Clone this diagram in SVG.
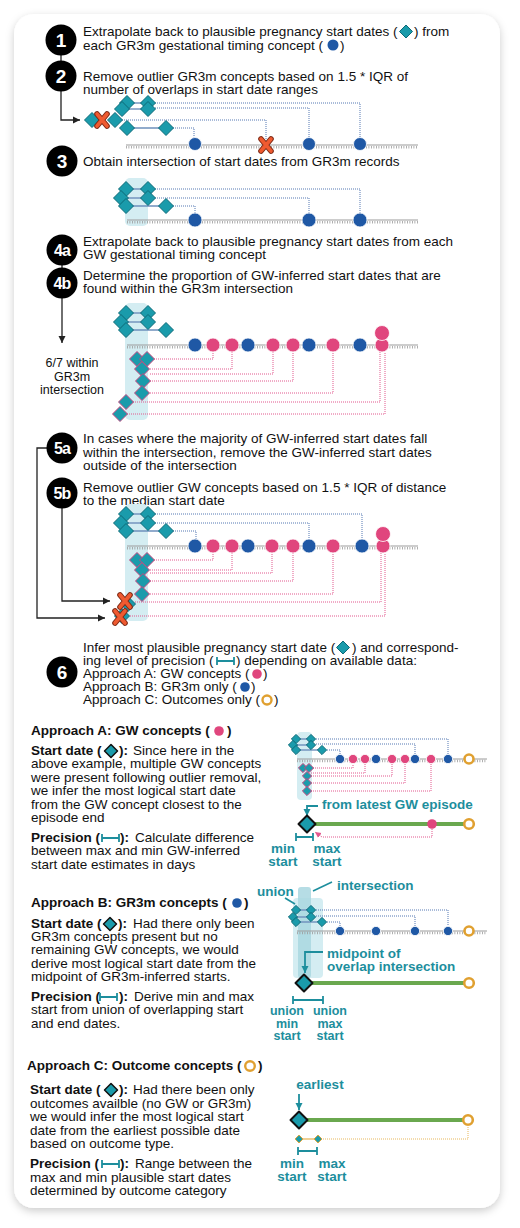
<svg xmlns="http://www.w3.org/2000/svg" width="520" height="1228" viewBox="0 0 520 1228">
<style>
text{font-family:"Liberation Sans",Arial,sans-serif;font-size:13.5px;fill:#111}
.b{font-weight:bold}
.num{font-weight:bold;fill:#fff;font-size:19px;text-anchor:middle}
.num2{font-weight:bold;fill:#fff;font-size:16px;text-anchor:middle;letter-spacing:-0.8px}
.tt{font-weight:bold;fill:#1d8e9d;font-size:13.5px}
.sm{font-size:12.5px}
.m{text-anchor:middle}
.dT{fill:#1a9bab;stroke:#0c6a78;stroke-width:1;stroke-linejoin:round}
.dP{fill:#1a9bab;stroke:#c9457e;stroke-width:1;stroke-linejoin:round}
.dO{fill:#1a9bab;stroke:#e0a030;stroke-width:1}
.dK{fill:#1a9bab;stroke:#111;stroke-width:2;stroke-linejoin:round}
.dKs{fill:#1a9bab;stroke:#111;stroke-width:1.5;stroke-linejoin:round}
.cB{fill:#1f58a5;stroke:#fff;stroke-width:.8}
.cP{fill:#e0467d;stroke:#fff;stroke-width:.8}
.ring{fill:#fff;stroke:#e0a030;stroke-width:2.6}
.tl{stroke:#9b9b9b;stroke-width:1.2}
.tk{stroke:#9b9b9b;stroke-width:2.6;stroke-dasharray:.8 1.7}
.bd{fill:none;stroke:#5579b3;stroke-width:1;stroke-dasharray:1 1}
.pd{fill:none;stroke:#e2588e;stroke-width:1;stroke-dasharray:1 1}
.od{fill:none;stroke:#e8b75a;stroke-width:1;stroke-dasharray:1 1}
.sc{stroke:#6d8fbb;stroke-width:1.4}
.sh{fill:#d4edf2}
.k{fill:none;stroke:#222;stroke-width:1.3}
.tb{fill:none;stroke:#1d8e9d;stroke-width:1.8}
.gr{stroke:#6aa84f;stroke-width:4}
.step{fill:#000}
</style>
<defs>
<filter id="shadow" x="-5%" y="-5%" width="110%" height="110%"><feDropShadow dx="0" dy="3" stdDeviation="4" flood-color="#000" flood-opacity="0.2"/></filter>
<path id="d" d="M0,-7.5L7.5,0L0,7.5L-7.5,0Z"/>
<path id="ds" d="M0,-4.6L4.6,0L0,4.6L-4.6,0Z"/>
<path id="dss" d="M0,-3.9L3.9,0L0,3.9L-3.9,0Z"/>
<path id="db" d="M0,-8.5L8.5,0L0,8.5L-8.5,0Z"/>
<path id="di" d="M0,-6.5L6.5,0L0,6.5L-6.5,0Z"/>
<g id="x"><path d="M-5,-6L5,6M5,-6L-5,6" stroke="#7d2a16" stroke-width="5.6" stroke-linecap="round"/><path d="M-5,-6L5,6M5,-6L-5,6" stroke="#ef5a30" stroke-width="3.6" stroke-linecap="round"/></g>
<path id="prec" d="M0,0H17M0,-4V4M17,-4V4"/>
<marker id="ak" markerWidth="8" markerHeight="8" refX="7" refY="4" orient="auto" markerUnits="userSpaceOnUse"><path d="M0,0.5L7,4L0,7.5Z" fill="#222"/></marker>
<marker id="at" markerWidth="8" markerHeight="8" refX="7" refY="4" orient="auto" markerUnits="userSpaceOnUse"><path d="M0,0.5L7,4L0,7.5Z" fill="#1d8e9d"/></marker>
<marker id="ap" markerWidth="7" markerHeight="7" refX="6" refY="3.5" orient="auto" markerUnits="userSpaceOnUse"><path d="M0,0.5L6,3.5L0,6.5Z" fill="#e2588e"/></marker>
</defs>
<rect width="520" height="1228" fill="#fff"/>
<rect id="card" x="14" y="14" width="486" height="1194" rx="20" fill="#fff" filter="url(#shadow)"/>

<g id="connectors">
<path class="k" d="M61,54V62"/>
<path class="k" d="M61,90V120H80" marker-end="url(#ak)"/>
<path class="k" d="M62,264V269"/>
<path class="k" d="M62,298V343" marker-end="url(#ak)"/>
<path class="k" d="M47,448H37V618H105" marker-end="url(#ak)"/>
<path class="k" d="M62,508V601H110" marker-end="url(#ak)"/>
</g>

<g id="step1">
<circle class="step" cx="61" cy="40" r="15.5"/><text class="num" x="61" y="47">1</text>
<text x="83" y="36">Extrapolate back to plausible pregnancy start dates (</text>
<use href="#di" class="dT" x="406" y="31.5"/>
<text x="414" y="36">) from</text>
<text x="83" y="49.5">each GR3m gestational timing concept (</text>
<circle cx="333" cy="45" r="5.5" fill="#1f58a5"/>
<text x="340" y="49.5">)</text>
</g>

<g id="step2">
<circle class="step" cx="61" cy="76" r="15.5"/><text class="num" x="61" y="83">2</text>
<text x="83" y="81">Remove outlier GR3m concepts based on 1.5 * IQR of</text>
<text x="83" y="94">number of overlaps in start date ranges</text>
<line class="tl" x1="126" y1="145" x2="418" y2="145"/>
<line class="tk" x1="126" y1="147.2" x2="418" y2="147.2"/>
<path class="bd" d="M155,103H360V138"/>
<path class="bd" d="M155,108H309V138"/>
<path class="bd" d="M120,120H266V139"/>
<path class="bd" d="M173,128H194V138"/>
<line class="sc" x1="127" y1="103" x2="148" y2="103"/>
<line class="sc" x1="122" y1="109" x2="148" y2="109"/>
<line class="sc" x1="127" y1="128" x2="166" y2="128"/>
<use href="#d" class="dT" x="127" y="103"/>
<use href="#d" class="dT" x="122" y="109"/>
<use href="#d" class="dT" x="148" y="103"/>
<use href="#d" class="dT" x="148" y="109"/>
<use href="#d" class="dT" x="92" y="120"/>
<use href="#d" class="dT" x="115" y="120"/>
<use href="#x" x="102" y="120"/>
<use href="#d" class="dT" x="127" y="128"/>
<use href="#d" class="dT" x="166" y="128"/>
<circle class="cB" cx="195" cy="144" r="6.5"/>
<circle class="cB" cx="309" cy="144" r="6.5"/>
<circle class="cB" cx="360" cy="144" r="6.5"/>
<use href="#x" x="266" y="145"/>
</g>

<g id="step3">
<circle class="step" cx="62" cy="161" r="15.5"/><text class="num" x="62" y="168">3</text>
<text x="83" y="166">Obtain intersection of start dates from GR3m records</text>
<rect class="sh" x="125" y="178" width="23" height="48" rx="5"/>
<line class="tl" x1="127" y1="220" x2="418" y2="220"/>
<line class="tk" x1="127" y1="222.2" x2="418" y2="222.2"/>
<path class="bd" d="M155,189H360V213"/>
<path class="bd" d="M155,198H309V213"/>
<path class="bd" d="M173,206H195V213"/>
<line class="sc" x1="126" y1="189" x2="148" y2="189"/>
<line class="sc" x1="121" y1="198" x2="148" y2="198"/>
<line class="sc" x1="126" y1="206" x2="166" y2="206"/>
<use href="#d" class="dT" x="126" y="189"/>
<use href="#d" class="dT" x="121" y="198"/>
<use href="#d" class="dT" x="126" y="206"/>
<use href="#d" class="dT" x="148" y="189"/>
<use href="#d" class="dT" x="148" y="198"/>
<use href="#d" class="dT" x="166" y="206"/>
<circle class="cB" cx="195" cy="220" r="7"/>
<circle class="cB" cx="309" cy="220" r="7"/>
<circle class="cB" cx="360" cy="220" r="7"/>
</g>

<g id="step4a">
<circle class="step" cx="62" cy="250" r="15.5"/><text class="num2" x="62" y="256">4a</text>
<text x="83" y="245.5">Extrapolate back to plausible pregnancy start dates from each</text>
<text x="83" y="258.5">GW gestational timing concept</text>
</g>

<g id="step4b">
<circle class="step" cx="62" cy="283" r="15.5"/><text class="num2" x="62" y="289">4b</text>
<text x="83" y="280">Determine the proportion of GW-inferred start dates that are</text>
<text x="83" y="293">found within the GR3m intersection</text>
<text class="m sm" x="72" y="367">6/7 within</text>
<text class="m sm" x="72" y="380.5">GR3m</text>
<text class="m sm" x="72" y="394">intersection</text>
<rect class="sh" x="125" y="303" width="23" height="117" rx="5"/>
<line class="tl" x1="127" y1="345" x2="418" y2="345"/>
<line class="tk" x1="127" y1="347.2" x2="418" y2="347.2"/>
<line class="sc" x1="126" y1="313" x2="148" y2="313"/>
<line class="sc" x1="121" y1="322" x2="148" y2="322"/>
<line class="sc" x1="126" y1="330" x2="166" y2="330"/>
<use href="#d" class="dT" x="126" y="313"/>
<use href="#d" class="dT" x="121" y="322"/>
<use href="#d" class="dT" x="126" y="330"/>
<use href="#d" class="dT" x="148" y="313"/>
<use href="#d" class="dT" x="148" y="322"/>
<use href="#d" class="dT" x="166" y="330"/>
<path class="pd" d="M152,359H213V352"/>
<path class="pd" d="M150,369H232V352"/>
<path class="pd" d="M150,374H273V352"/>
<path class="pd" d="M150,381H293V352"/>
<path class="pd" d="M150,393H333V352"/>
<path class="pd" d="M133,402H380V352"/>
<path class="pd" d="M127,414H385V352"/>
<use href="#d" class="dP" x="137" y="359"/>
<use href="#d" class="dP" x="147" y="359"/>
<use href="#d" class="dP" x="142" y="369"/>
<use href="#d" class="dP" x="143" y="381"/>
<use href="#d" class="dP" x="142" y="393"/>
<use href="#d" class="dP" x="126" y="402"/>
<use href="#d" class="dP" x="120" y="414"/>
<circle class="cB" cx="195" cy="345" r="7"/>
<circle class="cP" cx="213" cy="345" r="7"/>
<circle class="cP" cx="232" cy="345" r="7"/>
<circle class="cB" cx="248" cy="345" r="7"/>
<circle class="cP" cx="273" cy="345" r="7"/>
<circle class="cP" cx="293" cy="345" r="7"/>
<circle class="cB" cx="309" cy="345" r="7"/>
<circle class="cP" cx="333" cy="345" r="7"/>
<circle class="cB" cx="360" cy="345" r="7"/>
<circle class="cP" cx="382" cy="345" r="7"/>
<circle class="cP" cx="382" cy="333" r="7.5" stroke-width="1.5"/>
</g>

<g id="step5a">
<circle class="step" cx="62" cy="448" r="15.5"/><text class="num2" x="62" y="454">5a</text>
<text x="83" y="443">In cases where the majority of GW-inferred start dates fall</text>
<text x="83" y="457">within the intersection, remove the GW-inferred start dates</text>
<text x="83" y="470">outside of the intersection</text>
</g>

<g id="step5b">
<circle class="step" cx="62" cy="493" r="15.5"/><text class="num2" x="62" y="499">5b</text>
<text x="83" y="492">Remove outlier GW concepts based on 1.5 * IQR of distance</text>
<text x="83" y="505">to the median start date</text>
<g transform="translate(0,201)">
<rect class="sh" x="125" y="303" width="23" height="117" rx="5"/>
<line class="tl" x1="127" y1="345" x2="418" y2="345"/>
<line class="tk" x1="127" y1="347.2" x2="418" y2="347.2"/>
<path class="bd" d="M155,313H362V338"/>
<path class="bd" d="M155,322H309V338"/>
<path class="bd" d="M173,330H196V338"/>
<line class="sc" x1="126" y1="313" x2="148" y2="313"/>
<line class="sc" x1="121" y1="322" x2="148" y2="322"/>
<line class="sc" x1="126" y1="330" x2="166" y2="330"/>
<use href="#d" class="dT" x="126" y="313"/>
<use href="#d" class="dT" x="121" y="322"/>
<use href="#d" class="dT" x="126" y="330"/>
<use href="#d" class="dT" x="148" y="313"/>
<use href="#d" class="dT" x="148" y="322"/>
<use href="#d" class="dT" x="166" y="330"/>
<path class="pd" d="M152,359H213V352"/>
<path class="pd" d="M150,369H232V352"/>
<path class="pd" d="M150,372H272V352"/>
<path class="pd" d="M150,380H293V352"/>
<path class="pd" d="M150,393H333V352"/>
<path class="pd" d="M135,401H381V352"/>
<path class="pd" d="M130,415H385V352"/>
<use href="#d" class="dP" x="137" y="359"/>
<use href="#d" class="dP" x="147" y="359"/>
<use href="#d" class="dP" x="142" y="369"/>
<use href="#d" class="dP" x="143" y="380"/>
<use href="#d" class="dP" x="142" y="393"/>
<use href="#d" class="dT" x="128" y="403"/>
<use href="#d" class="dT" x="122" y="415"/>
<use href="#x" x="125" y="400"/>
<use href="#x" x="120" y="416"/>
<circle class="cB" cx="195" cy="345" r="7"/>
<circle class="cP" cx="213" cy="345" r="7"/>
<circle class="cP" cx="232" cy="345" r="7"/>
<circle class="cB" cx="248" cy="345" r="7"/>
<circle class="cP" cx="272" cy="345" r="7"/>
<circle class="cP" cx="293" cy="345" r="7"/>
<circle class="cB" cx="309" cy="345" r="7"/>
<circle class="cP" cx="333" cy="345" r="7"/>
<circle class="cB" cx="362" cy="345" r="7"/>
<circle class="cP" cx="383" cy="345" r="7"/>
<circle class="cP" cx="383" cy="333" r="7.5" stroke-width="1.5"/>
</g>
</g>

<g id="step6">
<circle class="step" cx="62" cy="672" r="15.5"/><text class="num" x="62" y="679">6</text>
<text x="83" y="652">Infer most plausible pregnancy start date (</text>
<use href="#di" class="dT" x="343" y="647.5"/>
<text x="352" y="652">) and correspond-</text>
<text x="83" y="665">ing level of precision (</text>
<use href="#prec" class="tb" x="217" y="661"/>
<text x="236" y="665">) depending on available data:</text>
<text x="83" y="678">Approach A: GW concepts (</text>
<circle cx="257" cy="674" r="4.8" fill="#e0467d"/>
<text x="263" y="678">)</text>
<text x="83" y="691">Approach B: GR3m only (</text>
<circle cx="245" cy="687" r="4.8" fill="#1f58a5"/>
<text x="251" y="691">)</text>
<text x="83" y="704">Approach C: Outcomes only (</text>
<circle cx="267" cy="700" r="4.5" fill="#fff" stroke="#e0a030" stroke-width="2.4"/>
<text x="274" y="704">)</text>
</g>

<g id="approachA">
<text class="b" x="31" y="735">Approach A: GW concepts (</text>
<circle cx="219" cy="731" r="4.8" fill="#e0467d"/>
<text class="b" x="227" y="735">)</text>
<text class="b" x="31" y="755">Start date (</text>
<use href="#di" class="dKs" x="111" y="751"/>
<text class="b" x="119" y="755">):</text>
<text x="133" y="755">Since here in the</text>
<text x="31" y="768">above example, multiple GW concepts</text>
<text x="31" y="782">were present following outlier removal,</text>
<text x="31" y="795">we infer the most logical start date</text>
<text x="31" y="809">from the GW concept closest to the</text>
<text x="31" y="822">episode end</text>
<text class="b" x="31" y="842">Precision (</text>
<use href="#prec" class="tb" x="102" y="838"/>
<text class="b" x="120" y="842">):</text>
<text x="135" y="842">Calculate difference</text>
<text x="31" y="855">between max and min GW-inferred</text>
<text x="31" y="869">start date estimates in days</text>

<rect class="sh" x="297" y="732" width="15" height="68" rx="4"/>
<line class="tl" x1="297" y1="759" x2="487" y2="759"/>
<line class="tk" x1="297" y1="761" x2="487" y2="761"/>
<path class="bd" d="M316,739H448V755"/>
<path class="bd" d="M316,744H415V755"/>
<path class="bd" d="M327,750H340V755"/>
<line class="sc" x1="296" y1="739" x2="311" y2="739" stroke-width="1"/>
<line class="sc" x1="293" y1="745" x2="311" y2="745" stroke-width="1"/>
<line class="sc" x1="296" y1="750" x2="322" y2="750" stroke-width="1"/>
<use href="#ds" class="dT" x="296" y="739"/>
<use href="#ds" class="dT" x="293" y="745"/>
<use href="#ds" class="dT" x="296" y="750"/>
<use href="#ds" class="dT" x="311" y="739"/>
<use href="#ds" class="dT" x="311" y="745"/>
<use href="#ds" class="dT" x="322" y="750"/>
<path class="pd" d="M313,768H353V764"/>
<path class="pd" d="M311,773H365V764"/>
<path class="pd" d="M311,776H392V764"/>
<path class="pd" d="M311,783H405V764"/>
<path class="pd" d="M311,791H431V764"/>
<use href="#ds" class="dP" x="303" y="768"/>
<use href="#ds" class="dP" x="309" y="768"/>
<use href="#ds" class="dP" x="307" y="776"/>
<use href="#ds" class="dP" x="307" y="783"/>
<use href="#ds" class="dP" x="307" y="791"/>
<circle class="cB" cx="340" cy="759" r="4.6"/>
<circle class="cP" cx="353" cy="759" r="4.6"/>
<circle class="cP" cx="365" cy="759" r="4.6"/>
<circle class="cB" cx="376" cy="759" r="4.6"/>
<circle class="cP" cx="392" cy="759" r="4.6"/>
<circle class="cP" cx="405" cy="759" r="4.6"/>
<circle class="cB" cx="415" cy="759" r="4.6"/>
<circle class="cP" cx="431" cy="759" r="4.6"/>
<circle class="cB" cx="448" cy="759" r="4.6"/>
<circle class="ring" cx="469" cy="759" r="4.5" stroke-width="2.2"/>
<text class="tt" x="322" y="809">from latest GW episode</text>
<path class="tb" d="M318,806H307V816" stroke-width="1.6" marker-end="url(#at)"/>
<line class="gr" x1="307" y1="824" x2="469" y2="824"/>
<path class="pd" d="M432,829V837H322L315,832" marker-end="url(#ap)"/>
<use href="#db" class="dK" x="307" y="824"/>
<circle cx="432" cy="824" r="4.8" fill="#e0467d"/>
<circle class="ring" cx="469" cy="824" r="4.8" stroke-width="2.4"/>
<path class="tb" d="M296,837H313M296,833V841M313,833V841"/>
<text class="tt m" x="283" y="853">min</text>
<text class="tt m" x="283" y="866">start</text>
<text class="tt m" x="327" y="853">max</text>
<text class="tt m" x="327" y="866">start</text>
</g>

<g id="approachB">
<text class="b" x="31" y="907">Approach B: GR3m concepts  (</text>
<circle cx="237" cy="903" r="4.8" fill="#1f58a5"/>
<text class="b" x="244" y="907">)</text>
<text class="b" x="31" y="928">Start date (</text>
<use href="#di" class="dKs" x="110" y="924"/>
<text class="b" x="118" y="928">):</text>
<text x="133" y="928">Had there only been</text>
<text x="31" y="941">GR3m concepts present but no</text>
<text x="31" y="954">remaining GW concepts, we would</text>
<text x="31" y="968">derive most logical start date from the</text>
<text x="31" y="981">midpoint of GR3m-inferred starts.</text>
<text class="b" x="31" y="1001">Precision (</text>
<use href="#prec" class="tb" x="100" y="997"/>
<text class="b" x="119" y="1001">):</text>
<text x="134" y="1001">Derive min and max</text>
<text x="31" y="1014">start from union of overlapping start</text>
<text x="31" y="1028">and end dates.</text>

<rect x="293" y="898" width="30" height="80" rx="4" fill="#d4edf2"/>
<rect x="298" y="887" width="13" height="91" rx="3" fill="#a9d7e1" fill-opacity="0.85"/>
<text class="tt" x="257" y="896">union</text>
<line x1="285" y1="898" x2="295" y2="904" stroke="#1d8e9d" stroke-width="1.6"/>
<text class="tt" x="337" y="890">intersection</text>
<line x1="313" y1="891" x2="332" y2="882" stroke="#1d8e9d" stroke-width="1.6"/>
<line class="tl" x1="297" y1="931" x2="487" y2="931"/>
<line class="tk" x1="297" y1="933" x2="487" y2="933"/>
<path class="bd" d="M316,910H448V927"/>
<path class="bd" d="M316,916H415V927"/>
<path class="bd" d="M327,922H340V927"/>
<line class="sc" x1="296" y1="910" x2="311" y2="910" stroke-width="1"/>
<line class="sc" x1="293" y1="917" x2="311" y2="917" stroke-width="1"/>
<line class="sc" x1="296" y1="922" x2="322" y2="922" stroke-width="1"/>
<use href="#ds" class="dT" x="296" y="910"/>
<use href="#ds" class="dT" x="293" y="917"/>
<use href="#ds" class="dT" x="296" y="922"/>
<use href="#ds" class="dT" x="311" y="910"/>
<use href="#ds" class="dT" x="311" y="917"/>
<use href="#ds" class="dT" x="322" y="922"/>
<circle class="cB" cx="340" cy="931" r="4.6"/>
<circle class="cB" cx="376" cy="931" r="4.6"/>
<circle class="cB" cx="415" cy="931" r="4.6"/>
<circle class="cB" cx="448" cy="931" r="4.6"/>
<circle class="ring" cx="469" cy="931" r="4.5" stroke-width="2.2"/>
<text class="tt" x="327" y="958">midpoint of</text>
<text class="tt" x="327" y="971">overlap intersection</text>
<path class="tb" d="M323,952H305V973" stroke-width="1.6" marker-end="url(#at)"/>
<line class="gr" x1="304" y1="983" x2="469" y2="983"/>
<use href="#db" class="dK" x="304" y="983"/>
<circle class="ring" cx="469" cy="983" r="4.8" stroke-width="2.4"/>
<path class="tb" d="M293,1000H323M293,996V1004M323,996V1004"/>
<text class="tt m sm" x="287" y="1015">union</text>
<text class="tt m sm" x="287" y="1027.5">min</text>
<text class="tt m sm" x="287" y="1040">start</text>
<text class="tt m sm" x="330" y="1015">union</text>
<text class="tt m sm" x="330" y="1027.5">max</text>
<text class="tt m sm" x="330" y="1040">start</text>
</g>

<g id="approachC">
<text class="b" x="27" y="1070">Approach C: Outcome concepts (</text>
<circle cx="250" cy="1066" r="4.8" fill="#fff" stroke="#e0a030" stroke-width="2.4"/>
<text class="b" x="258" y="1070">)</text>
<text class="b" x="30" y="1094">Start date (</text>
<use href="#di" class="dKs" x="111" y="1090"/>
<text class="b" x="119" y="1094">):</text>
<text x="133" y="1094">Had there been only</text>
<text x="30" y="1108">outcomes availble (no GW or GR3m)</text>
<text x="30" y="1121">we would infer the most logical start</text>
<text x="30" y="1135">date from the earliest possible date</text>
<text x="30" y="1148">based on outcome type.</text>
<text class="b" x="30" y="1168">Precision (</text>
<use href="#prec" class="tb" x="102" y="1164"/>
<text class="b" x="120" y="1168">):</text>
<text x="135" y="1168">Range between the</text>
<text x="30" y="1182">max and min plausible start dates</text>
<text x="30" y="1195">determined by outcome category</text>

<text class="tt m" x="320" y="1089">earliest</text>
<path class="tb" d="M299,1094V1110" stroke-width="1.6" marker-end="url(#at)"/>
<line class="gr" x1="299" y1="1120" x2="468" y2="1120"/>
<use href="#db" class="dK" x="299" y="1120"/>
<circle class="ring" cx="468" cy="1120" r="4.8" stroke-width="2.4"/>
<path class="od" d="M468,1125V1139H318"/>
<line x1="299" y1="1139" x2="318" y2="1139" stroke="#e8b75a" stroke-width="1.3"/>
<use href="#dss" class="dO" x="299" y="1139"/>
<use href="#dss" class="dO" x="318" y="1139"/>
<path class="tb" d="M298,1151H317M298,1147V1155M317,1147V1155"/>
<text class="tt m" x="292" y="1168">min</text>
<text class="tt m" x="292" y="1181">start</text>
<text class="tt m" x="332" y="1168">max</text>
<text class="tt m" x="332" y="1181">start</text>
</g>
</svg>
